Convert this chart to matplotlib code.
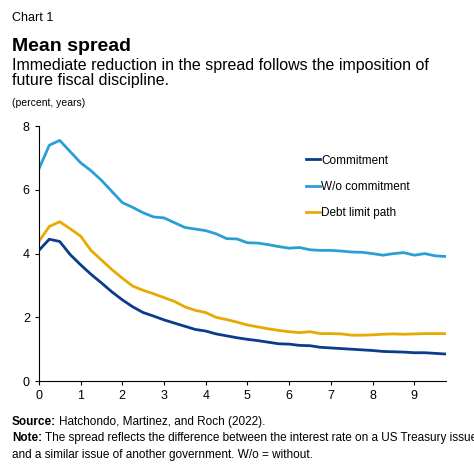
import numpy as np
import matplotlib.pyplot as plt

plt.rcParams['font.family'] = ['Liberation Sans', 'DejaVu Sans']

years = np.arange(40) * 0.25
commitment = [4.1, 4.45, 4.38, 3.97, 3.65, 3.35, 3.08, 2.8, 2.55, 2.33, 2.15, 2.04, 1.92, 1.82, 1.72, 1.62,
              1.57, 1.48, 1.42, 1.36, 1.31, 1.27, 1.22, 1.17, 1.16, 1.12, 1.11, 1.06, 1.04, 1.02, 1.0, 0.98,
              0.96, 0.93, 0.92, 0.91, 0.89, 0.89, 0.87, 0.85]
wo_commitment = [6.65, 7.4, 7.55, 7.2, 6.85, 6.6, 6.3, 5.95, 5.6, 5.45, 5.28, 5.15, 5.12, 4.97, 4.82, 4.77,
                 4.72, 4.62, 4.47, 4.46, 4.34, 4.33, 4.28, 4.22, 4.17, 4.19, 4.12, 4.10, 4.10, 4.08, 4.05, 4.04,
                 4.0, 3.95, 4.0, 4.03, 3.95, 4.0, 3.93, 3.91]
debt_limit = [4.38, 4.85, 5.0, 4.78, 4.55, 4.1, 3.8, 3.5, 3.23, 2.98, 2.85, 2.74, 2.62, 2.5, 2.33, 2.22,
              2.15, 2.0, 1.93, 1.85, 1.76, 1.7, 1.64, 1.59, 1.55, 1.52, 1.55, 1.49, 1.49, 1.48, 1.44, 1.44,
              1.45, 1.47, 1.48, 1.47, 1.48, 1.49, 1.49, 1.49]

fig = plt.figure(figsize=(4.74, 4.74), dpi=100)
ax = fig.add_axes([0.082, 0.196, 0.858, 0.538])
ax.plot(years, commitment, color='#0b3c8c', lw=2, label='Commitment')
ax.plot(years, wo_commitment, color='#2a9fd6', lw=2, label='W/o commitment')
ax.plot(years, debt_limit, color='#e8a900', lw=2, label='Debt limit path')
ax.set_xlim(0, 9.75)
ax.set_ylim(0, 8)
ax.set_xticks(range(10))
ax.set_yticks([0, 2, 4, 6, 8])
for s in ['top', 'right']:
    ax.spines[s].set_visible(False)
ax.tick_params(labelsize=9, length=3)
ax.legend(loc='upper left', bbox_to_anchor=(0.63, 0.93), frameon=False, fontsize=8.5,
          handlelength=1.2, handletextpad=0.1, labelspacing=1.2)

fig.text(0.025, 0.975, 'Chart 1', fontsize=9, va='top')
fig.text(0.025, 0.92, 'Mean spread', fontsize=14, weight='bold', va='top')
fig.text(0.025, 0.877, 'Immediate reduction in the spread follows the imposition of\nfuture fiscal discipline.',
         fontsize=11.5, va='top', linespacing=1.0)
fig.text(0.025, 0.793, '(percent, years)', fontsize=7.5, va='top')

renderer = fig.canvas.get_renderer()
def bold_lead(y, lead, rest):
    t = fig.text(0.025, y, lead, fontsize=8.5, weight='bold', va='top')
    bb = t.get_window_extent(renderer).transformed(fig.transFigure.inverted())
    fig.text(bb.x1 + 0.006, y, rest, fontsize=8.5, va='top')

bold_lead(0.123, 'Source:', 'Hatchondo, Martinez, and Roch (2022).')
bold_lead(0.088, 'Note:', 'The spread reflects the difference between the interest rate on a US Treasury issue')
fig.text(0.025, 0.052, 'and a similar issue of another government. W/o = without.', fontsize=8.5, va='top')
fig.savefig('out.png')
